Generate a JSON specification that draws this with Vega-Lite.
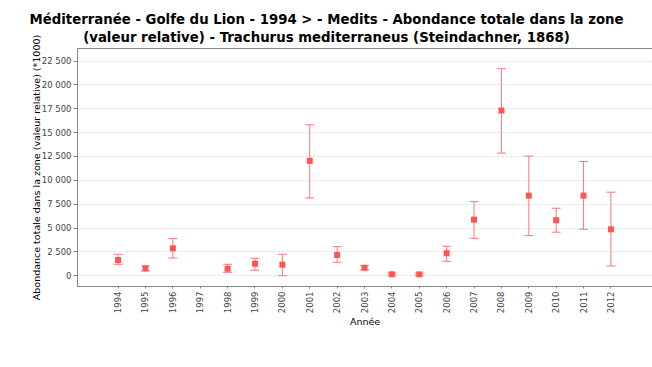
{
  "$schema": "https://vega.github.io/schema/vega-lite/v6.json",
  "width": 575,
  "height": 238,
  "autosize": {"type": "none"},
  "padding": {"left": 77, "top": 48, "right": 0, "bottom": 81},
  "background": "white",
  "config": {
    "locale": {"number": {"decimal": ",", "thousands": " ", "grouping": [3], "currency": ["", " €"]}},
    "view": {"stroke": "#888888", "strokeWidth": 1},
    "font": "DejaVu Sans",
    "axis": {
      "labelFont": "DejaVu Sans",
      "labelFontSize": 8.5,
      "labelColor": "#444444",
      "titleFont": "DejaVu Sans",
      "titleFontSize": 9.5,
      "titleFontWeight": "normal",
      "titleColor": "#000000",
      "domainColor": "#888888",
      "tickColor": "#888888"
    }
  },
  "title": {
    "text": ["Méditerranée - Golfe du Lion - 1994 > - Medits - Abondance totale dans la zone", "(valeur relative) - Trachurus mediterraneus (Steindachner, 1868)"],
    "font": "DejaVu Sans",
    "fontSize": 13.3,
    "fontWeight": "bold",
    "color": "#000000",
    "anchor": "middle",
    "dx": -38,
    "offset": -10,
    "lineHeight": 18
  },
  "data": {
    "values": [
      {"annee": "1994", "val": 1605, "lo": 1154, "hi": 2203},
      {"annee": "1995", "val": 734, "lo": 451, "hi": 976},
      {"annee": "1996", "val": 2832, "lo": 1815, "hi": 3839},
      {"annee": "1998", "val": 692, "lo": 315, "hi": 1154},
      {"annee": "1999", "val": 1217, "lo": 525, "hi": 1783},
      {"annee": "2000", "val": 1112, "lo": -42, "hi": 2203},
      {"annee": "2001", "val": 11990, "lo": 8109, "hi": 15767},
      {"annee": "2002", "val": 2129, "lo": 1364, "hi": 3000},
      {"annee": "2003", "val": 797, "lo": 587, "hi": 1007},
      {"annee": "2004", "val": 110, "lo": 0, "hi": 250},
      {"annee": "2005", "val": 100, "lo": 0, "hi": 230},
      {"annee": "2006", "val": 2308, "lo": 1469, "hi": 3042},
      {"annee": "2007", "val": 5832, "lo": 3881, "hi": 7721},
      {"annee": "2008", "val": 17267, "lo": 12798, "hi": 21641},
      {"annee": "2009", "val": 8350, "lo": 4154, "hi": 12483},
      {"annee": "2010", "val": 5770, "lo": 4511, "hi": 7028},
      {"annee": "2011", "val": 8350, "lo": 4825, "hi": 11917},
      {"annee": "2012", "val": 4825, "lo": 976, "hi": 8707}
    ]
  },
  "encoding": {
    "x": {
      "field": "annee",
      "type": "ordinal",
      "scale": {"type": "band", "paddingInner": 0, "paddingOuter": 1.035, "domain": ["1994","1995","1996","1997","1998","1999","2000","2001","2002","2003","2004","2005","2006","2007","2008","2009","2010","2011","2012"]},
      "axis": {"title": "Année", "labelAngle": -90, "tickSize": 2, "labelPadding": 3, "titlePadding": 4, "grid": false, "bandPosition": 0.5}
    }
  },
  "layer": [
    {
      "mark": {"type": "rule", "color": "#ff7777", "strokeWidth": 1},
      "encoding": {
        "y": {"field": "lo", "type": "quantitative", "scale": {"domain": [-1120, 23810], "nice": false, "zero": false},
          "axis": {"title": "Abondance totale dans la zone (valeur relative) (*1000)", "values": [0,2500,5000,7500,10000,12500,15000,17500,20000,22500], "format": ",d", "tickSize": 4, "labelPadding": 2, "titlePadding": 0, "grid": true, "gridDash": [2,2], "gridColor": "#dddddd"}},
        "y2": {"field": "hi"}
      }
    },
    {
      "mark": {"type": "tick", "color": "#ff7777", "size": 9, "thickness": 1, "opacity": 1},
      "encoding": {
        "y": {"field": "hi", "type": "quantitative", "axis": {"title": "Abondance totale dans la zone (valeur relative) (*1000)", "values": [0,2500,5000,7500,10000,12500,15000,17500,20000,22500], "format": ",d", "tickSize": 4, "labelPadding": 2, "titlePadding": 0, "grid": true, "gridDash": [2,2], "gridColor": "#dddddd"}}
      }
    },
    {
      "mark": {"type": "tick", "color": "#ff7777", "size": 9, "thickness": 1, "opacity": 1},
      "encoding": {
        "y": {"field": "lo", "type": "quantitative", "axis": {"title": "Abondance totale dans la zone (valeur relative) (*1000)", "values": [0,2500,5000,7500,10000,12500,15000,17500,20000,22500], "format": ",d", "tickSize": 4, "labelPadding": 2, "titlePadding": 0, "grid": true, "gridDash": [2,2], "gridColor": "#dddddd"}}
      }
    },
    {
      "mark": {"type": "point", "shape": "square", "filled": true, "size": 36, "color": "#ff5555", "opacity": 1},
      "encoding": {
        "y": {"field": "val", "type": "quantitative", "axis": {"title": "Abondance totale dans la zone (valeur relative) (*1000)", "values": [0,2500,5000,7500,10000,12500,15000,17500,20000,22500], "format": ",d", "tickSize": 4, "labelPadding": 2, "titlePadding": 0, "grid": true, "gridDash": [2,2], "gridColor": "#dddddd"}}
      }
    }
  ]
}
